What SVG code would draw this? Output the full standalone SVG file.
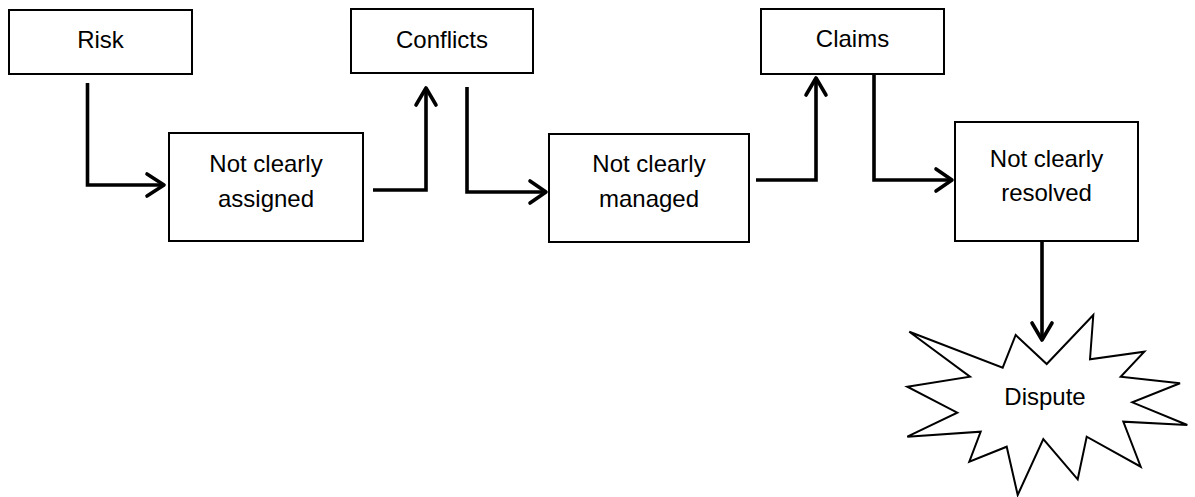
<svg xmlns="http://www.w3.org/2000/svg" width="1195" height="497" viewBox="0 0 1195 497">
<style>
.box{fill:#fff;stroke:#000;stroke-width:2}
.lbl{font-family:"Liberation Sans",Arial,sans-serif;font-size:24px;fill:#000;text-anchor:middle}
.con{fill:none;stroke:#000;stroke-width:3.6}
.head{fill:none;stroke:#000;stroke-width:3.6;stroke-linecap:round;stroke-linejoin:round}
</style>
<rect width="1195" height="497" fill="#fff"/>
<g id="connectors">
<path class="con" d="M87.5,83 V185 H164"/>
<path class="head" d="M147,174 L164,185 L147,196"/>
<path class="con" d="M373,190 H426 V89"/>
<path class="head" d="M416,105 L426,88 L436,105"/>
<path class="con" d="M467,87 V192 H546"/>
<path class="head" d="M530,181 L546,192 L530,203"/>
<path class="con" d="M756,180 H816 V78"/>
<path class="head" d="M806,95 L816,78 L826,95"/>
<path class="con" d="M874,74 V180 H952"/>
<path class="head" d="M936,169 L952,180 L936,191"/>
<path class="con" d="M1042,241 V340"/>
<path class="head" d="M1032,323 L1042,340 L1052,323"/>
</g>
<g id="risk">
<rect class="box" x="9" y="10" width="183" height="64"/>
<text class="lbl" x="100.5" y="48">Risk</text>
</g>
<g id="conflicts">
<rect class="box" x="351" y="9" width="182" height="64"/>
<text class="lbl" x="442" y="48">Conflicts</text>
</g>
<g id="claims">
<rect class="box" x="761" y="9" width="183" height="65"/>
<text class="lbl" x="852.5" y="47">Claims</text>
</g>
<g id="assigned">
<rect class="box" x="169" y="133" width="194" height="108"/>
<text class="lbl" x="266" y="172">Not clearly</text>
<text class="lbl" x="266" y="207">assigned</text>
</g>
<g id="managed">
<rect class="box" x="549" y="134" width="200" height="108"/>
<text class="lbl" x="649" y="172">Not clearly</text>
<text class="lbl" x="649" y="207">managed</text>
</g>
<g id="resolved">
<rect class="box" x="955" y="122" width="183" height="119"/>
<text class="lbl" x="1046.5" y="167">Not clearly</text>
<text class="lbl" x="1046.5" y="201">resolved</text>
</g>
<g id="dispute">
<polygon class="box" points="909.3,331.7 1002.7,367.7 1015.7,335 1046.7,364 1093.3,315 1090,359.3 1144.3,351.7 1120.7,376.7 1180,383.3 1132.3,402.3 1187.3,425 1123.3,421.7 1140.7,466.7 1086.7,436.7 1077.7,479.3 1043.3,439 1017.7,495 1006.7,446.7 969.3,461.7 980.7,431.7 907.3,436.7 957.3,412.7 907.3,386.7 970,376.7"/>
<text class="lbl" x="1045" y="405">Dispute</text>
</g>
</svg>
